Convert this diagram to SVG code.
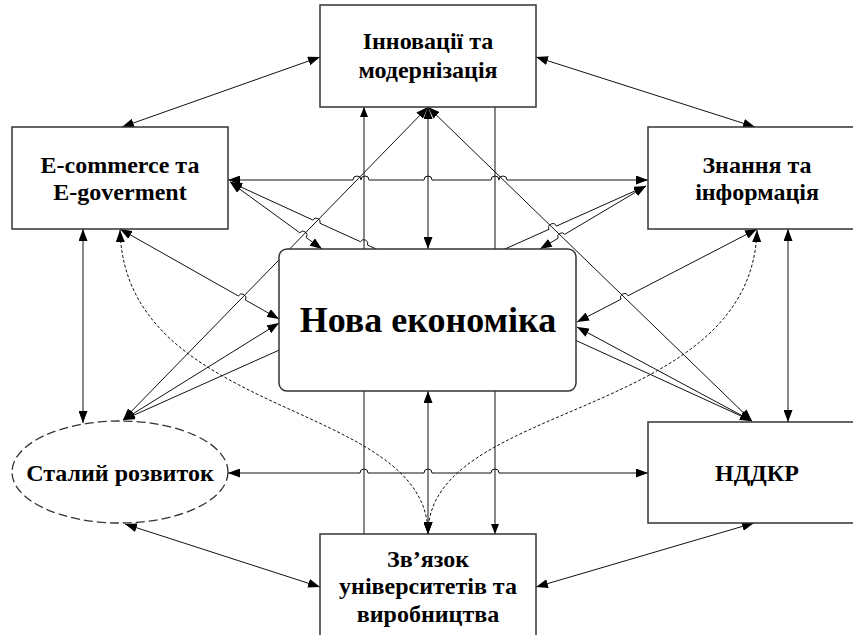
<svg xmlns="http://www.w3.org/2000/svg" width="853" height="635" viewBox="0 0 853 635">
<style>
.box{fill:#fff;stroke:#333;stroke-width:1.5}
.ell{fill:#fff;stroke:#333;stroke-width:1.3;stroke-dasharray:9 4}
.c{fill:none;stroke:#111;stroke-width:1}
.d{fill:none;stroke:#111;stroke-width:1;stroke-dasharray:3 2}
.b{marker-start:url(#ah);marker-end:url(#ah)}
.e{marker-end:url(#ahs)}
.lbl{font-family:"Liberation Serif","Times New Roman",serif;font-weight:bold;font-size:24px;text-anchor:middle;fill:#000}
.big{font-size:36px}
</style>
<defs>
<marker id="ah" markerUnits="userSpaceOnUse" markerWidth="12" markerHeight="9" refX="12" refY="4.5" orient="auto-start-reverse"><path d="M0,0 L12,4.5 L0,9 z" fill="#000" stroke="none"/></marker>
<marker id="ahs" markerUnits="userSpaceOnUse" markerWidth="10" markerHeight="8" refX="10" refY="4" orient="auto-start-reverse"><path d="M0,0 L10,4 L0,8 z" fill="#000" stroke="none"/></marker>
</defs>
<rect width="853" height="635" fill="#fff"/>
<g id="connectors">
<path class="c b" d="M122,127 L320,57"/>
<path class="c b" d="M536,57 L755,127"/>
<path class="c b" d="M228,180 H353 A4,4 0 0 1 361,180 A4,4 0 0 1 369,180 H424 A4,4 0 0 1 432,180 H491 A4,4 0 0 1 499,180 A4,4 0 0 1 507,180 H648"/>
<path class="c b" d="M230,182 L299.8,232.8 A4,4 0 0 1 306.2,237.6 L322,249"/>
<path class="c b" d="M230,182 L312.8,220 A4,4 0 0 1 320,223.3 L360.4,241.7 A4,4 0 0 1 367.6,245.1 L752,421"/>
<path class="c b" d="M646,186 L564.8,234.3 A4,4 0 0 0 558,238.3 L540,249"/>
<path class="c b" d="M646,186 L556.4,226.1 A4,4 0 0 0 549,229.3 L123,420"/>
<path class="c b" d="M123,420 L428,107"/>
<path class="c b" d="M752,421 L428,107"/>
<path class="c b" d="M428,249 L428,107"/>
<path class="c e" d="M364,534 L364,107"/>
<path class="c e" d="M495,107 L495,534"/>
<path class="c b" d="M428,391 L428,534"/>
<path class="c b" d="M120,229 L238.4,296 A4,4 0 0 1 245.4,300 L279,319"/>
<path class="c b" d="M123,420 L279,323"/>
<path class="c b" d="M757,229 L628.1,295.7 A4,4 0 0 0 620.9,299.3 L577,322"/>
<path class="c b" d="M752,421 L577,327"/>
<path class="c b" d="M83,229 L83,423"/>
<path class="c b" d="M788,229 L788,422"/>
<path class="c b" d="M228,473 H360 A4,4 0 0 1 368,473 H424 A4,4 0 0 1 432,473 H491 A4,4 0 0 1 499,473 H648"/>
<path class="c b" d="M125,524 L320,587"/>
<path class="c b" d="M754,523 L536,587"/>
<path class="d b" d="M120,230 C125,420 428,400 428,534"/>
<path class="d b" d="M757,230 C752,420 428,400 428,534"/>
</g>
<g id="innovations">
<rect class="box" x="320" y="5" width="216" height="102"/>
<text class="lbl" x="428" y="49">Інновації та</text>
<text class="lbl" x="428" y="78">модернізація</text>
</g>
<g id="ecommerce">
<rect class="box" x="12" y="127" width="216" height="102"/>
<text class="lbl" x="120" y="173">E-commerce та</text>
<text class="lbl" x="120" y="200">E-goverment</text>
</g>
<g id="knowledge">
<rect class="box" x="648" y="127" width="218" height="102"/>
<text class="lbl" x="757" y="173">Знання та</text>
<text class="lbl" x="757" y="200">інформація</text>
</g>
<g id="new-economy">
<rect class="box" x="279" y="249" width="297" height="142" rx="8"/>
<text class="lbl big" x="428" y="332">Нова економіка</text>
</g>
<g id="sustainable">
<ellipse class="ell" cx="120" cy="472" rx="108" ry="51"/>
<text class="lbl" x="120" y="481">Сталий розвиток</text>
</g>
<g id="rnd">
<rect class="box" x="648" y="422" width="218" height="101"/>
<text class="lbl" x="757" y="481">НДДКР</text>
</g>
<g id="university">
<rect class="box" x="320" y="534" width="216" height="110"/>
<text class="lbl" x="428" y="567">Зв’язок</text>
<text class="lbl" x="428" y="594">університетів та</text>
<text class="lbl" x="428" y="622">виробництва</text>
</g>
</svg>
